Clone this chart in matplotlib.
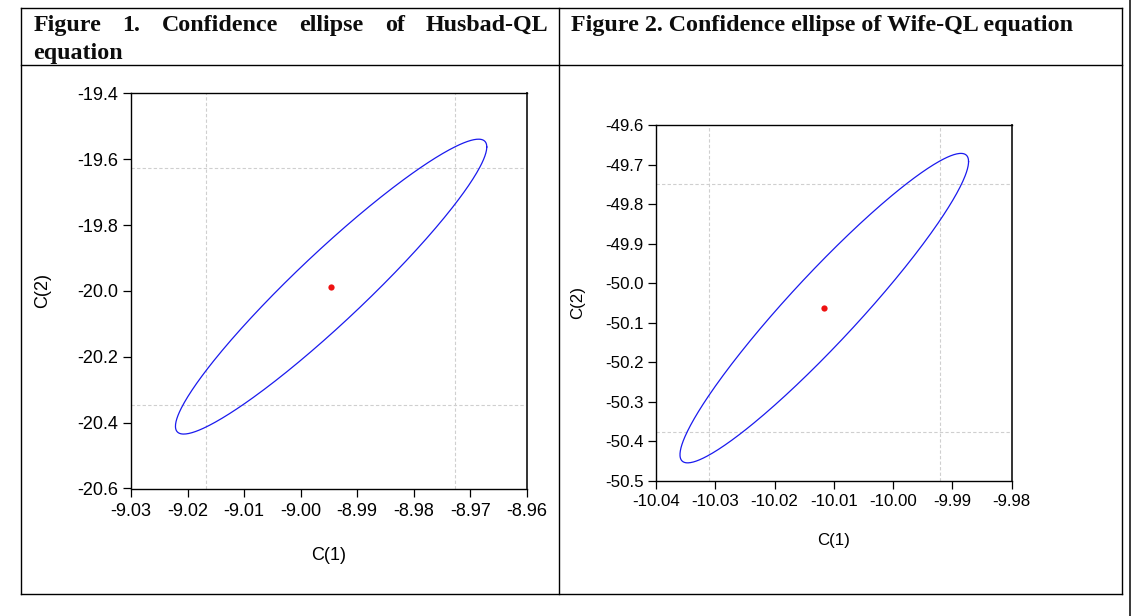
import numpy as np
import matplotlib
matplotlib.use("Agg")
import matplotlib.pyplot as plt
from matplotlib.lines import Line2D
from matplotlib.patches import Rectangle

# ---------------- data ----------------
titles = ["Figure 1. Confidence ellipse of Husbad-QL equation",
          "Figure 2. Confidence ellipse of Wife-QL equation"]
x_label = "C(1)"
y_label = "C(2)"

# Figure 1 (Husbad-QL)
h_center = [-8.9946, -19.987]          # point estimate C(1), C(2)
h_ci_c1 = [-9.0167, -8.9726]           # individual 95% interval C(1)
h_ci_c2 = [-20.345, -19.628]           # individual 95% interval C(2)
h_corr = 0.947
h_xticks = [-9.03, -9.02, -9.01, -9.00, -8.99, -8.98, -8.97, -8.96]
h_yticks = [-20.6, -20.4, -20.2, -20.0, -19.8, -19.6, -19.4]

# Figure 2 (Wife-QL)
w_center = [-10.0116, -50.0626]
w_ci_c1 = [-10.0311, -9.9921]
w_ci_c2 = [-50.376, -49.749]
w_corr = 0.947
w_xticks = [-10.04, -10.03, -10.02, -10.01, -10.00, -9.99, -9.98]
w_yticks = [-50.5, -50.4, -50.3, -50.2, -50.1, -50.0, -49.9, -49.8, -49.7, -49.6]

z_ind = 1.96          # individual interval critical value
k_joint = 2.4477      # joint 95% ellipse radius, sqrt(chi2(2))

# ---------------- figure ----------------
W, H = 1131, 616
fig = plt.figure(figsize=(W / 100, H / 100), dpi=100)
fig.patch.set_facecolor("white")
plt.rcParams["font.family"] = ["Liberation Sans", "DejaVu Sans"]


def fx(px):
    return px / W


def fy(py):
    return 1 - py / H


def hline(x0, x1, y, lw=1.0, color="black"):
    fig.add_artist(Line2D([fx(x0), fx(x1)], [fy(y), fy(y)], color=color, lw=lw,
                          transform=fig.transFigure, solid_capstyle="projecting"))


def vline(x, y0, y1, lw=1.0, color="black"):
    fig.add_artist(Line2D([fx(x), fx(x)], [fy(y0), fy(y1)], color=color, lw=lw,
                          transform=fig.transFigure, solid_capstyle="projecting"))


# table borders
hline(21, 1121.5, 8.3)
hline(21, 1121.5, 64.5)
hline(21, 1121.5, 593.5)
vline(21, 8.3, 593.5)
vline(559.3, 8.3, 593.5)
vline(1121.5, 8.3, 593.5)
fig.add_artist(Rectangle((fx(1128.6), 0), 1 - fx(1128.6), 1, color="#3e3e3e",
                         transform=fig.transFigure, lw=0))

# headers
serif = ["Liberation Serif", "DejaVu Serif"]
hsize = 17.3
hcolor = "#0d0d0d"
renderer = fig.canvas.get_renderer()
words = titles[0].split()
line1 = words[:6]
line2 = " ".join(words[6:])
objs = []
for wd in line1:
    t = fig.text(0, fy(30.8), wd, fontsize=hsize, fontweight="bold", family=serif,
                 va="baseline", ha="left", color=hcolor)
    objs.append(t)
widths = [o.get_window_extent(renderer).width for o in objs]
x_start, x_end = 33.3, 548.5
gap = (x_end - x_start - sum(widths)) / (len(objs) - 1)
xx = x_start
for o, wdt in zip(objs, widths):
    o.set_x(fx(xx))
    xx += wdt + gap
fig.text(fx(33.3), fy(59.3), line2, fontsize=hsize, fontweight="bold", family=serif,
         va="baseline", ha="left", color=hcolor)
fig.text(fx(571), fy(30.8), titles[1], fontsize=hsize, fontweight="bold", family=serif,
         va="baseline", ha="left", color=hcolor)


def ellipse_plot(ax, center, ci1, ci2, corr, xticks, yticks, fs, xfmt, yfmt, xpad):
    cx, cy = center
    se1 = (ci1[1] - ci1[0]) / 2 / z_ind
    se2 = (ci2[1] - ci2[0]) / 2 / z_ind
    a = k_joint * se1
    b = k_joint * se2
    t = np.linspace(0, 2 * np.pi, 400)
    ex = cx + a * np.cos(t)
    ey = cy + b * (corr * np.cos(t) + np.sqrt(1 - corr ** 2) * np.sin(t))
    for v in ci1:
        ax.axvline(v, color="#cfcfcf", lw=0.8, ls=(0, (3, 2)), zorder=1)
    for v in ci2:
        ax.axhline(v, color="#cfcfcf", lw=0.8, ls=(0, (3, 2)), zorder=1)
    ax.plot(ex, ey, color="#1a1aee", lw=0.9, zorder=3)
    ax.plot([cx], [cy], "o", color="#ee1111", ms=4.5, mew=0, zorder=4)
    ax.set_xlim(xticks[0], xticks[-1])
    ax.set_ylim(yticks[0], yticks[-1])
    ax.set_xticks(xticks)
    ax.set_yticks(yticks)
    ax.set_xticklabels([xfmt % v for v in xticks])
    ax.set_yticklabels([yfmt % v for v in yticks])
    ax.tick_params(direction="out", length=6, width=0.9, labelsize=fs, pad=3,
                   colors="black", top=False, right=False)
    ax.tick_params(axis="x", pad=xpad)
    for s in ax.spines.values():
        s.set_linewidth(1.0)
        s.set_color("black")
    ax.spines["right"].set_color("#333333")
    ax.spines["right"].set_linewidth(1.4)


# plot 1
ax1 = fig.add_axes([fx(131), fy(488.5), fx(526.7) - fx(131), fy(93.3) - fy(488.5)])
ellipse_plot(ax1, h_center, h_ci_c1, h_ci_c2, h_corr, h_xticks, h_yticks, 13,
             "%.2f", "%.1f", 4.5)
fig.text(fx(329), fy(555.7), x_label, fontsize=13, ha="center", va="center")
fig.text(fx(42.7), fy(290), y_label, fontsize=13, ha="center", va="center", rotation=90)

# plot 2
ax2 = fig.add_axes([fx(656), fy(481), fx(1011.5) - fx(656), fy(125.3) - fy(481)])
ellipse_plot(ax2, w_center, w_ci_c1, w_ci_c2, w_corr, w_xticks, w_yticks, 12.2,
             "%.2f", "%.1f", 3)
fig.text(fx(834), fy(541), x_label, fontsize=12.2, ha="center", va="center")
fig.text(fx(578), fy(302.5), y_label, fontsize=12.2, ha="center", va="center", rotation=90)

fig.savefig("out.png", dpi=100, facecolor="white")
